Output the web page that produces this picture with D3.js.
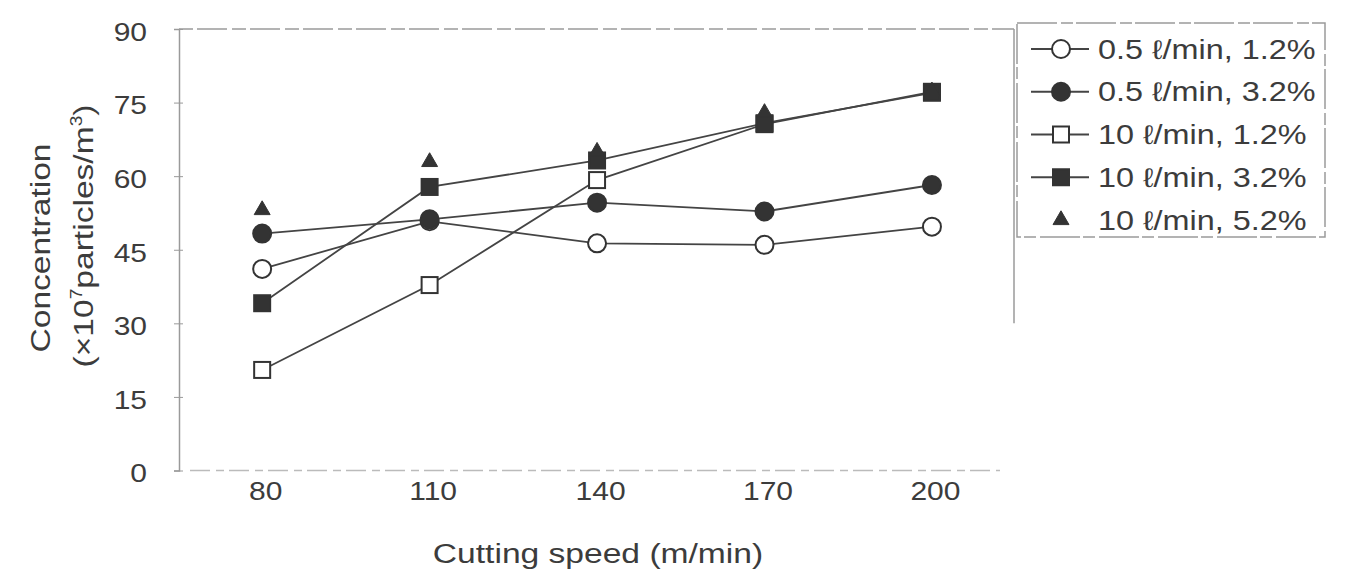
<!DOCTYPE html>
<html>
<head>
<meta charset="utf-8">
<script src="https://d3js.org/d3.v7.min.js"></script>
<style>
  body { margin: 0; background: #fff; }
  svg { font-family: "Liberation Sans", Arial, sans-serif; }
  .tick text { fill: #3c3c3c; }
</style>
</head>
<body>
<svg width="1346" height="583"></svg>
<script>
// data
const speeds = [80, 110, 140, 170, 200];
const yTicks = [0, 15, 30, 45, 60, 75, 90];
const names = ["0.5 ℓ/min, 1.2%", "0.5 ℓ/min, 3.2%", "10 ℓ/min, 1.2%", "10 ℓ/min, 3.2%", "10 ℓ/min, 5.2%"];
const openCircle   = [41.1, 50.8, 46.3, 46.0, 49.7];
const filledCircle = [48.3, 51.2, 54.6, 52.8, 58.2];
const openSquare   = [20.5, 37.8, 59.2, 70.6, 77.2];
const filledSquare = [34.1, 57.8, 63.2, 70.8, 77.0];
const triangle     = [53.1, 62.9, 65.0, 72.9, 77.3];

const series = [
  {name: names[0], values: openCircle,   shape: "circle",   fill: "#fff", line: true},
  {name: names[1], values: filledCircle, shape: "circle",   fill: "#333", line: true},
  {name: names[2], values: openSquare,   shape: "square",   fill: "#fff", line: true},
  {name: names[3], values: filledSquare, shape: "square",   fill: "#333", line: true},
  {name: names[4], values: triangle,     shape: "triangle", fill: "#333", line: false}
];

const svg = d3.select("svg");
const ink = "#3c3c3c";
const frame = "#9a9a9a";
const stretch = 1.2; // the scanned lettering is wider than Arial

const x = d3.scaleLinear().domain([65.1, 214.7]).range([179, 1014]);
const y = d3.scaleLinear().domain([0, 90]).range([470.5, 29]);

// plot frame (faint, as in the scan)
svg.append("line").attr("x1", 179).attr("x2", 1014).attr("y1", y(90)).attr("y2", y(90))
   .attr("stroke", frame).attr("stroke-width", 1.5).attr("stroke-dasharray", "14 4 30 5");
svg.append("line").attr("x1", 1014).attr("x2", 1014).attr("y1", y(90)).attr("y2", y(30))
   .attr("stroke", frame).attr("stroke-width", 1.5);
svg.append("line").attr("x1", 190).attr("x2", 1000).attr("y1", y(0)).attr("y2", y(0))
   .attr("stroke", "#bbb").attr("stroke-width", 1.5).attr("stroke-dasharray", "20 6 8 5");

// y axis
const yAxis = svg.append("g")
  .attr("transform", "translate(179,0)")
  .call(d3.axisLeft(y).tickValues(yTicks).tickSize(5));
yAxis.select(".domain").attr("stroke", frame).attr("stroke-width", 1.5);
yAxis.selectAll(".tick line").attr("stroke", frame).attr("x2", 4).attr("x1", -5);
yAxis.selectAll(".tick text").attr("font-size", 25).attr("x", 0).attr("dy", "0.45em")
  .attr("transform", `translate(-32,0) scale(${stretch},1)`);

// x axis (labels only, the baseline is the faint frame line)
const xAxis = svg.append("g")
  .attr("transform", `translate(0,${y(0)})`)
  .call(d3.axisBottom(x).tickValues(speeds).tickSize(0).tickPadding(12));
xAxis.select(".domain").remove();
xAxis.selectAll(".tick text").attr("font-size", 25)
  .attr("transform", `translate(3,0) scale(${stretch},1)`);

// axis titles
svg.append("text")
  .attr("transform", `translate(598,563) scale(${stretch},1)`)
  .attr("text-anchor", "middle").attr("font-size", 28).attr("fill", ink)
  .text("Cutting speed (m/min)");

svg.append("text")
  .attr("transform", `translate(50,248) rotate(-90) scale(${stretch},1)`)
  .attr("text-anchor", "middle").attr("font-size", 28).attr("fill", ink)
  .text("Concentration");
const t2 = svg.append("text")
  .attr("transform", `translate(93,236) rotate(-90) scale(${stretch},1)`)
  .attr("text-anchor", "middle").attr("font-size", 28).attr("fill", ink);
t2.append("tspan").text("(×10");
t2.append("tspan").attr("font-size", 16).attr("dy", -11).text("7");
t2.append("tspan").attr("dy", 11).text("particles/m");
t2.append("tspan").attr("font-size", 16).attr("dy", -11).text("3");
t2.append("tspan").attr("dy", 11).text(")");

// lines
const line = d3.line().x((d, i) => x(speeds[i])).y(d => y(d));
series.filter(s => s.line).forEach(s => {
  svg.append("path").datum(s.values)
    .attr("d", line).attr("fill", "none")
    .attr("stroke", "#444").attr("stroke-width", 1.8);
});

function drawMarker(g, shape, fill, cx, cy) {
  if (shape === "circle") {
    g.append("circle").attr("cx", cx).attr("cy", cy).attr("r", 9)
      .attr("fill", fill).attr("stroke", "#333").attr("stroke-width", 2);
  } else if (shape === "square") {
    g.append("rect").attr("x", cx - 8).attr("y", cy - 8).attr("width", 16).attr("height", 16)
      .attr("fill", fill).attr("stroke", "#333").attr("stroke-width", 2);
  } else {
    g.append("path").attr("transform", `translate(${cx},${cy})`)
      .attr("d", d3.symbol().type(d3.symbolTriangle).size(110))
      .attr("fill", fill).attr("stroke", "#333").attr("stroke-width", 1);
  }
}

const marks = svg.append("g");
series.forEach(s => {
  s.values.forEach((v, i) => drawMarker(marks, s.shape, s.fill, x(speeds[i]), y(v)));
});

// legend
const legend = svg.append("g");
legend.append("rect").attr("x", 1017).attr("y", 23).attr("width", 308).attr("height", 214)
  .attr("fill", "#fff").attr("stroke", frame).attr("stroke-width", 1.5)
  .attr("stroke-dasharray", "40 4 12 3");
const rowY = d3.scaleLinear().domain([0, 4]).range([49, 220]);
series.forEach((s, i) => {
  const ly = rowY(i);
  if (s.line) {
    legend.append("line").attr("x1", 1031).attr("x2", 1089).attr("y1", ly).attr("y2", ly)
      .attr("stroke", "#444").attr("stroke-width", 1.8);
  }
  drawMarker(legend, s.shape, s.fill, 1061, ly);
  legend.append("text")
    .attr("transform", `translate(1098,${ly}) scale(${stretch},1)`)
    .attr("dy", "0.36em").attr("font-size", 27).attr("fill", ink).text(s.name);
});
</script>
</body>
</html>
